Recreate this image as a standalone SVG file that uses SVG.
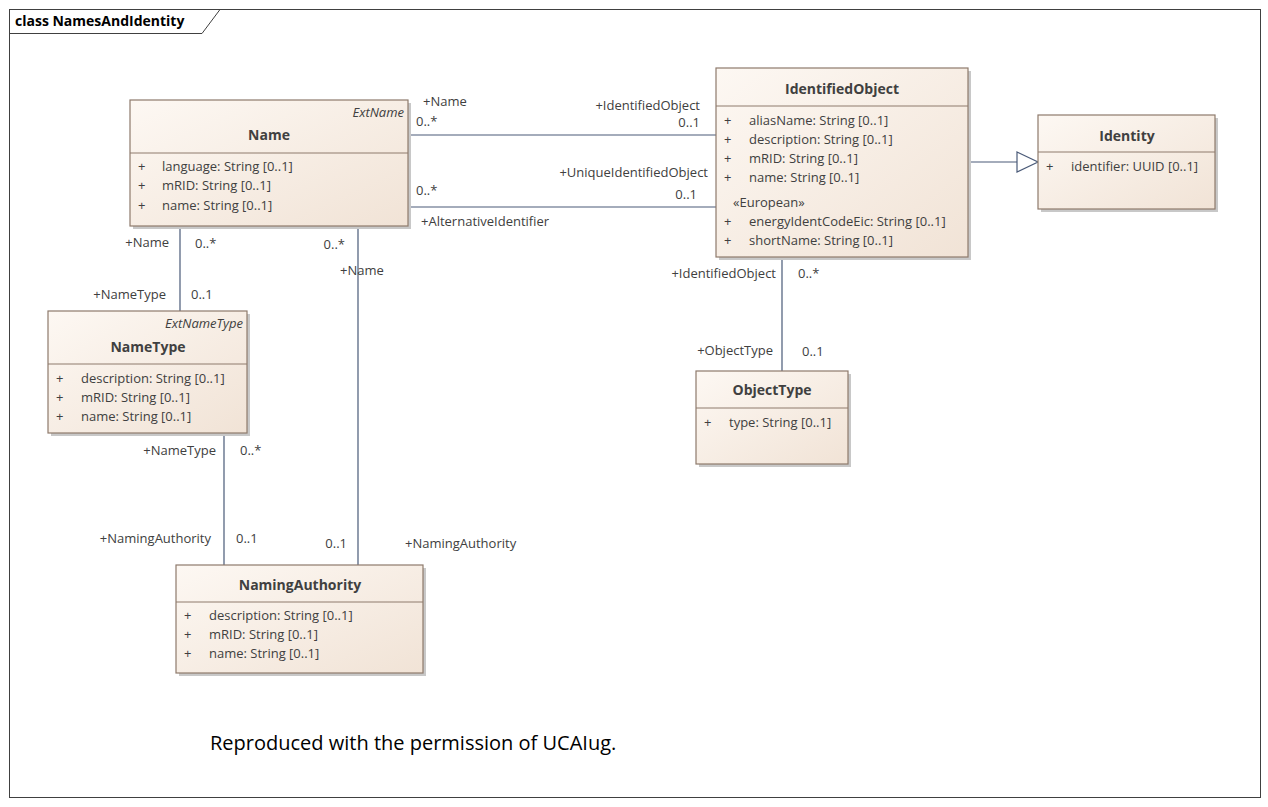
<svg xmlns="http://www.w3.org/2000/svg" width="1268" height="807" viewBox="0 0 1268 807">
<style>
text{font-family:"Open Sans","Liberation Sans",sans-serif;font-size:13px;fill:#404040}
.t{font-weight:bold;font-size:14px;text-anchor:middle}
.s{font-style:italic;text-anchor:end}
.b{fill:url(#g);stroke:#8e7a6c;stroke-width:1.2}
.sh{fill:#c8c8c8}
.d{stroke:#8e7a6c;stroke-width:1}
.c{stroke:#4a5a78;stroke-width:1.2;fill:none}
</style>
<defs>
<linearGradient id="g" x1="0" y1="0" x2="1" y2="1"><stop offset="0" stop-color="#fdf8f3"/><stop offset="1" stop-color="#f1e3d6"/></linearGradient>
</defs>
<rect x="0" y="0" width="1268" height="807" fill="#fff"/>
<rect x="9.5" y="9.5" width="1251" height="788" fill="none" stroke="#404040"/>
<path d="M9.5 33.5H202L220 9.5" fill="none" stroke="#404040"/>
<text x="15" y="26" style="font-weight:bold;font-size:14px;fill:#000">class NamesAndIdentity</text>
<g id="connectors">
<path class="c" d="M408 135H716M408 207H716M180 226V311M358 226V565M224 433V565M782 257V371M968 162H1017"/>
<path d="M1017 152L1038 162L1017 172Z" fill="#fff" stroke="#4a5a78" stroke-width="1.2"/>
<text x="423" y="106">+Name</text><text x="416" y="126">0..*</text>
<text x="700" y="110" text-anchor="end">+IdentifiedObject</text><text x="700" y="127" text-anchor="end">0..1</text>
<text x="416" y="195">0..*</text><text x="421" y="226">+AlternativeIdentifier</text>
<text x="708" y="177" text-anchor="end">+UniqueIdentifiedObject</text><text x="697" y="199" text-anchor="end">0..1</text>
<text x="169" y="247" text-anchor="end">+Name</text><text x="195" y="248">0..*</text>
<text x="166" y="299" text-anchor="end">+NameType</text><text x="191" y="299">0..1</text>
<text x="345" y="249" text-anchor="end">0..*</text><text x="340" y="275">+Name</text>
<text x="216" y="455" text-anchor="end">+NameType</text><text x="240" y="455">0..*</text>
<text x="211" y="543" text-anchor="end">+NamingAuthority</text><text x="236" y="543">0..1</text>
<text x="347" y="548" text-anchor="end">0..1</text><text x="405" y="548">+NamingAuthority</text>
<text x="776" y="278" text-anchor="end">+IdentifiedObject</text><text x="798" y="278">0..*</text>
<text x="773" y="355" text-anchor="end">+ObjectType</text><text x="802" y="356">0..1</text>
</g>
<g id="Name">
<rect class="sh" x="133" y="103" width="278" height="126"/>
<rect class="b" x="130" y="100" width="278" height="126"/>
<line class="d" x1="130" y1="153" x2="408" y2="153"/>
<text class="s" x="404" y="117">ExtName</text>
<text class="t" x="269" y="140">Name</text>
<text x="138" y="171">+</text><text x="162" y="171">language: String [0..1]</text>
<text x="138" y="190">+</text><text x="162" y="190">mRID: String [0..1]</text>
<text x="138" y="210">+</text><text x="162" y="210">name: String [0..1]</text>
</g>
<g id="NameType">
<rect class="sh" x="51" y="314" width="199" height="122"/>
<rect class="b" x="48" y="311" width="199" height="122"/>
<line class="d" x1="48" y1="364" x2="247" y2="364"/>
<text class="s" x="243" y="328">ExtNameType</text>
<text class="t" x="148" y="352">NameType</text>
<text x="56" y="383">+</text><text x="81" y="383">description: String [0..1]</text>
<text x="56" y="402">+</text><text x="81" y="402">mRID: String [0..1]</text>
<text x="56" y="421">+</text><text x="81" y="421">name: String [0..1]</text>
</g>
<g id="NamingAuthority">
<rect class="sh" x="179" y="568" width="247" height="108"/>
<rect class="b" x="176" y="565" width="247" height="108"/>
<line class="d" x1="176" y1="602" x2="423" y2="602"/>
<text class="t" x="300" y="590">NamingAuthority</text>
<text x="184" y="620">+</text><text x="209" y="620">description: String [0..1]</text>
<text x="184" y="639">+</text><text x="209" y="639">mRID: String [0..1]</text>
<text x="184" y="658">+</text><text x="209" y="658">name: String [0..1]</text>
</g>
<g id="IdentifiedObject">
<rect class="sh" x="719" y="71" width="252" height="189"/>
<rect class="b" x="716" y="68" width="252" height="189"/>
<line class="d" x1="716" y1="106" x2="968" y2="106"/>
<text class="t" x="842" y="94">IdentifiedObject</text>
<text x="724" y="125">+</text><text x="749" y="125">aliasName: String [0..1]</text>
<text x="724" y="144">+</text><text x="749" y="144">description: String [0..1]</text>
<text x="724" y="163">+</text><text x="749" y="163">mRID: String [0..1]</text>
<text x="724" y="182">+</text><text x="749" y="182">name: String [0..1]</text>
<text x="733" y="207">«European»</text>
<text x="724" y="226">+</text><text x="749" y="226">energyIdentCodeEic: String [0..1]</text>
<text x="724" y="245">+</text><text x="749" y="245">shortName: String [0..1]</text>
</g>
<g id="Identity">
<rect class="sh" x="1041" y="118" width="177" height="94"/>
<rect class="b" x="1038" y="115" width="177" height="94"/>
<line class="d" x1="1038" y1="152" x2="1215" y2="152"/>
<text class="t" x="1127" y="141">Identity</text>
<text x="1046" y="171">+</text><text x="1071" y="171">identifier: UUID [0..1]</text>
</g>
<g id="ObjectType">
<rect class="sh" x="699" y="374" width="152" height="93"/>
<rect class="b" x="696" y="371" width="152" height="93"/>
<line class="d" x1="696" y1="408" x2="848" y2="408"/>
<text class="t" x="772" y="395">ObjectType</text>
<text x="704" y="427">+</text><text x="729" y="427">type: String [0..1]</text>
</g>
<text x="210" y="750" style="font-size:20px;fill:#000">Reproduced with the permission of UCAIug.</text>
</svg>
